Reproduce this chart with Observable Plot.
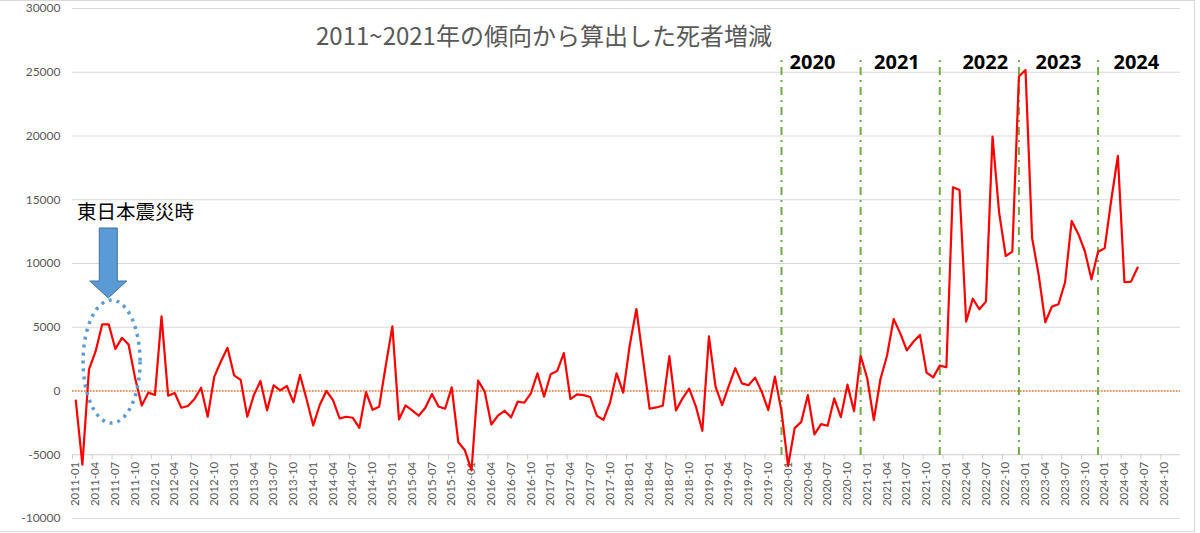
<!DOCTYPE html>
<html>
<head>
<meta charset="utf-8">
<script src="https://cdn.jsdelivr.net/npm/d3@7"></script>
<script src="https://cdn.jsdelivr.net/npm/@observablehq/plot@0.6"></script>
<style>
  body { margin: 0; background: #fff; }
  #wrap { position: relative; width: 1200px; height: 533px; overflow: hidden; background: #fff; }
  #frame { position: absolute; left: -3px; top: 0; width: 1198px; height: 532px; box-sizing: border-box; border: 1.5px solid #d9d9d9; pointer-events: none; }
  #title { position: absolute; left: 0; width: 1088px; top: 23px; text-align: center; font-family: "Noto Sans CJK JP", sans-serif; font-size: 24px; color: #595959; white-space: nowrap; line-height: 1; }
  #note { position: absolute; left: 77px; top: 201px; font-family: "Noto Sans CJK JP", sans-serif; font-size: 19.5px; color: #000; white-space: nowrap; line-height: 1; }
</style>
</head>
<body>
<div id="wrap"></div>
<script>
// ---- data ----
const startYear = 2011;
const monthCount = 168; // 2011-01 .. 2024-12 on the category axis
const values = [
  -760, -5780, 1700, 3100, 5220, 5220, 3300, 4170, 3650, 1000, -1130, -130,      // 2011
  -320, 5850, -370, -160, -1310, -1180, -630, 260, -2020, 1130, 2310, 3390,      // 2012
  1230, 870, -2020, -320, 790, -1520, 450, 50, 390, -890, 1260, -660,            // 2013
  -2700, -1080, 0, -710, -2150, -2020, -2100, -2890, -80, -1470, -1230, 2000,    // 2014
  5070, -2230, -1130, -1520, -1940, -1310, -240, -1210, -1390, 290, -4020, -4650,// 2015
  -6220, 810, -50, -2630, -1940, -1550, -2070, -840, -920, -180, 1390, -450,     // 2016
  1310, 1580, 2970, -630, -260, -320, -470, -1940, -2260, -920, 1390, -130,      // 2017
  3620, 6430, 2520, -1390, -1290, -1160, 2730, -1520, -580, 180, -1180, -3120,   // 2018
  4280, 340, -1100, 390, 1790, 600, 450, 1050, -50, -1500, 1130, -1580,          // 2019
  -5880, -2910, -2420, -320, -3410, -2600, -2730, -580, -2050, 500, -1580, 2760, // 2020
  1000, -2280, 920, 2760, 5640, 4540, 3180, 3860, 4400, 1440, 1070, 1990,        // 2021
  1860, 15980, 15770, 5440, 7240, 6410, 7010, 19950, 13990, 10590, 10930, 24660, // 2022
  25180, 12000, 9100, 5390, 6620, 6800, 8530, 13340, 12320, 10960, 8760, 10930,  // 2023
  11190, 14980, 18440, 8530, 8580, 9680                                          // 2024
];
const categories = d3.range(monthCount).map(i =>
  `${startYear + Math.floor(i / 12)}-${String(i % 12 + 1).padStart(2, "0")}`);
const tickLabels = categories.filter((_, i) => i % 3 === 0);
const yTicks = [-10000, -5000, 0, 5000, 10000, 15000, 20000, 25000, 30000];
const dividerMonths = ["2019-12", "2020-12", "2021-12", "2022-12", "2023-12"];
const yearLabels = ["2020", "2021", "2022", "2023", "2024"];
const titleText = "2011~2021年の傾向から算出した死者増減";
const noteText = "東日本震災時";

// ---- layout ----
const yearLabelX = [111.7, 124.5, 137.9, 149.0, 160.8];
const tickIdx = tickLabels.map(t => categories.indexOf(t));
const dividerIdx = dividerMonths.map(m => categories.indexOf(m));
const series = values.map((v, i) => ({i, v}));
const yearData = yearLabels.map((t, k) => ({t, x: yearLabelX[k]}));

const plot = Plot.plot({
  width: 1200,
  height: 533,
  marginLeft: 72,
  marginRight: 20,
  marginTop: 8,
  marginBottom: 15,
  style: {fontFamily: "Lato, 'Noto Sans', sans-serif", background: "transparent", overflow: "visible"},
  x: {type: "linear", domain: [-0.5, monthCount - 0.5], axis: null},
  y: {domain: [-10000, 30000], axis: null},
  marks: [
    Plot.ruleY(yTicks.filter(v => v !== -5000), {stroke: "#d9d9d9", strokeWidth: 1}),
    Plot.ruleY([-5000], {stroke: "#d0d0d0", strokeWidth: 1}),
    Plot.axisY(yTicks, {tickSize: 0, tickPadding: 12, tickFormat: d => String(d), fontSize: 12, fill: "#595959", label: null}),
    Plot.ruleX(tickIdx, {x: d => d - 0.5, y1: -5000, y2: -5400, stroke: "#d0d0d0"}),
    Plot.text(tickIdx, {x: d => d, y: -5000, text: d => categories[d], rotate: -90, textAnchor: "end", dy: 7, fontSize: 11.5, fill: "#595959"}),
    Plot.ruleY([0], {stroke: "#ED7D31", strokeWidth: 1.5, strokeDasharray: "1.5,1.5"}),
    Plot.ruleX(dividerIdx, {y1: -5060, y2: 26080, stroke: "#70AD47", strokeWidth: 2, strokeDasharray: "8,5,2,5"}),
    Plot.line(series, {x: "i", y: "v", stroke: "#FF0000", strokeWidth: 2.2}),
    Plot.text(yearData, {x: "x", y: 25750, text: "t", fontSize: 20, fontWeight: "bold", fill: "#000", fontFamily: "'Noto Sans', sans-serif"})
  ]
});

const wrap = document.getElementById("wrap");
wrap.appendChild(plot);

// annotation shapes drawn with the plot's scales
const xs = plot.scale("x"), ys = plot.scale("y");
const svg = d3.select(plot);
const g = svg.append("g");
// dotted ellipse around the 2011 earthquake months
g.append("ellipse")
  .attr("cx", xs.apply(5.5)).attr("cy", ys.apply(2270))
  .attr("rx", 28.5).attr("ry", 61.5)
  .attr("fill", "none").attr("stroke", "#5B9BD5").attr("stroke-width", 3.5)
  .attr("stroke-dasharray", "3,5");
// down arrow
const ax = xs.apply(5.0); // arrow centre
g.append("path")
  .attr("d", `M${ax-9},228 L${ax+9},228 L${ax+9},281 L${ax+18.5},281 L${ax},298 L${ax-18.5},281 L${ax-9},281 Z`)
  .attr("fill", "#5B9BD5").attr("stroke", "#41719C").attr("stroke-width", 1);

const title = document.createElement("div");
title.id = "title"; title.textContent = titleText; wrap.appendChild(title);
const note = document.createElement("div");
note.id = "note"; note.textContent = noteText; wrap.appendChild(note);
const frame = document.createElement("div");
frame.id = "frame"; wrap.appendChild(frame);
</script>
</body>
</html>
